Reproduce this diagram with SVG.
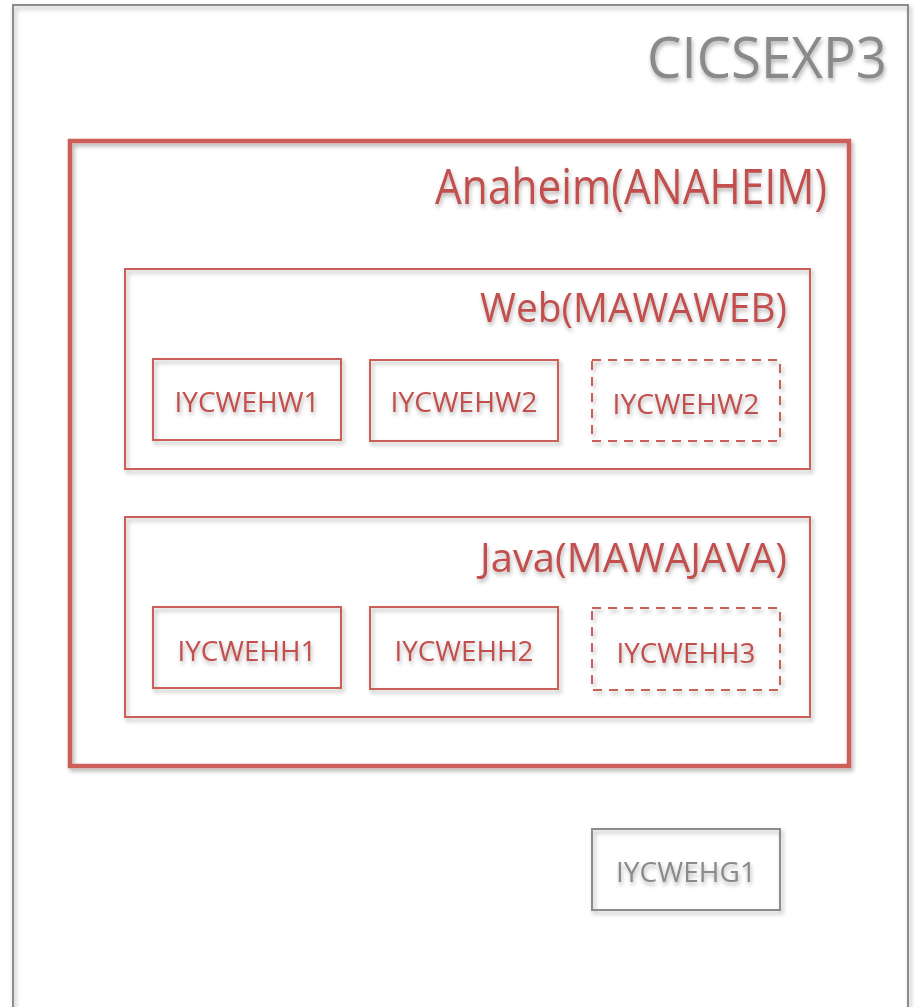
<svg xmlns="http://www.w3.org/2000/svg" width="915" height="1007" viewBox="0 0 915 1007">
<defs>
<filter id="sh" x="-10%" y="-10%" width="130%" height="130%">
<feDropShadow dx="2" dy="3" stdDeviation="2" flood-color="#000" flood-opacity="0.3"/>
</filter>
<filter id="tsh" x="-10%" y="-20%" width="130%" height="160%">
<feDropShadow dx="1" dy="3" stdDeviation="2" flood-color="#000" flood-opacity="0.3"/>
</filter>
</defs>
<style>
.red{fill:none;stroke:#cd5f5a;}
.dash{stroke-dasharray:9 7;}
.gray{fill:none;stroke:#8c8c8c;}
text{font-family:"Open Sans","Liberation Sans",sans-serif;filter:url(#tsh);}
.rt{fill:#c0504d;}
.gt{fill:#8a8a8a;}
</style>
<rect width="915" height="1007" fill="#fff"/>
<g id="cicsexp3">
<path class="gray" d="M13,1010 V5 H908 V1010" stroke-width="2" filter="url(#sh)"/>
<text class="gt" x="887" y="78" font-size="56" text-anchor="end" textLength="240" lengthAdjust="spacingAndGlyphs">CICSEXP3</text>
</g>
<g id="anaheim">
<rect class="red" x="70" y="141" width="779" height="625" stroke-width="4.5" filter="url(#sh)"/>
<text class="rt" x="827" y="204" font-size="50" text-anchor="end" textLength="392" lengthAdjust="spacingAndGlyphs">Anaheim(ANAHEIM)</text>
</g>
<g id="web">
<rect class="red" x="125" y="269" width="685" height="200" stroke-width="2" filter="url(#sh)"/>
<text class="rt" x="787" y="322" font-size="40" text-anchor="end" textLength="307" lengthAdjust="spacingAndGlyphs">Web(MAWAWEB)</text>
</g>
<g id="java">
<rect class="red" x="125" y="517" width="685" height="200" stroke-width="2" filter="url(#sh)"/>
<text class="rt" x="787" y="572" font-size="40" text-anchor="end" textLength="307" lengthAdjust="spacingAndGlyphs">Java(MAWAJAVA)</text>
</g>
<g id="iycwehw1">
<rect class="red" x="153" y="359" width="188" height="81" stroke-width="2" filter="url(#sh)"/>
<text class="rt" x="247" y="412" font-size="27" text-anchor="middle" textLength="145" lengthAdjust="spacingAndGlyphs">IYCWEHW1</text>
</g>
<g id="iycwehw2">
<rect class="red" x="370" y="360" width="188" height="81" stroke-width="2" filter="url(#sh)"/>
<text class="rt" x="464" y="412" font-size="27" text-anchor="middle" textLength="147" lengthAdjust="spacingAndGlyphs">IYCWEHW2</text>
</g>
<g id="iycwehw2b">
<rect class="red dash" x="592" y="360" width="188" height="81" stroke-width="2" filter="url(#sh)"/>
<text class="rt" x="686" y="414" font-size="27" text-anchor="middle" textLength="147" lengthAdjust="spacingAndGlyphs">IYCWEHW2</text>
</g>
<g id="iycwehh1">
<rect class="red" x="153" y="607" width="188" height="81" stroke-width="2" filter="url(#sh)"/>
<text class="rt" x="247" y="661" font-size="27" text-anchor="middle" textLength="139" lengthAdjust="spacingAndGlyphs">IYCWEHH1</text>
</g>
<g id="iycwehh2">
<rect class="red" x="370" y="607" width="188" height="82" stroke-width="2" filter="url(#sh)"/>
<text class="rt" x="464" y="661" font-size="27" text-anchor="middle" textLength="139" lengthAdjust="spacingAndGlyphs">IYCWEHH2</text>
</g>
<g id="iycwehh3">
<rect class="red dash" x="592" y="608" width="188" height="82" stroke-width="2" filter="url(#sh)"/>
<text class="rt" x="686" y="663" font-size="27" text-anchor="middle" textLength="139" lengthAdjust="spacingAndGlyphs">IYCWEHH3</text>
</g>
<g id="iycwehg1">
<rect class="gray" x="592" y="829" width="188" height="81" stroke-width="2" filter="url(#sh)"/>
<text class="gt" x="686" y="882" font-size="27" text-anchor="middle" textLength="140" lengthAdjust="spacingAndGlyphs">IYCWEHG1</text>
</g>
<g id="connectors"/>
</svg>
